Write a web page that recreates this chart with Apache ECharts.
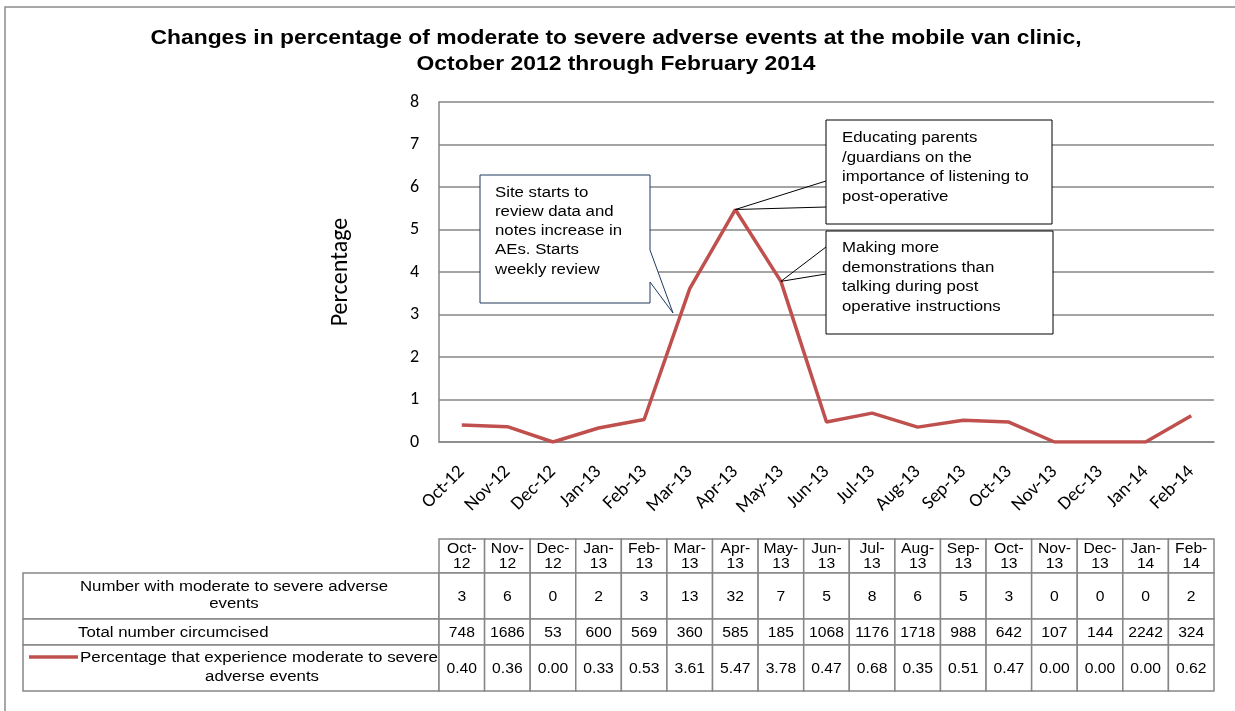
<!DOCTYPE html>
<html>
<head>
<meta charset="utf-8">
<script src="https://cdn.jsdelivr.net/npm/echarts@6/dist/echarts.min.js"></script>
<style>
html,body{margin:0;padding:0;background:#fff;}
#chart{width:1235px;height:711px;}
</style>
</head>
<body>
<div id="chart"></div>
<script>
const categories = ['Oct-12','Nov-12','Dec-12','Jan-13','Feb-13','Mar-13','Apr-13','May-13','Jun-13','Jul-13','Aug-13','Sep-13','Oct-13','Nov-13','Dec-13','Jan-14','Feb-14'];
const adverseCounts = [3,6,0,2,3,13,32,7,5,8,6,5,3,0,0,0,2];
const totalCircumcised = [748,1686,53,600,569,360,585,185,1068,1176,1718,988,642,107,144,2242,324];
const percentages = [0.40,0.36,0.00,0.33,0.53,3.61,5.47,3.78,0.47,0.68,0.35,0.51,0.47,0.00,0.00,0.00,0.62];
const rowLabels = ['Number with moderate to severe adverse\nevents','Total number circumcised','Percentage that experience moderate to severe\nadverse events'];
const titleLines = ['Changes in percentage of moderate to severe adverse events at the mobile van clinic,','October 2012 through February 2014'];
const note1 = ['Site starts to','review data and','notes increase in','AEs. Starts','weekly review'];
const note2 = ['Educating parents','/guardians on the','importance of listening to','post-operative'];
const note3 = ['Making more','demonstrations than','talking during post','operative instructions'];

const LINE_COLOR = '#C0504D';
const GRID_COLOR = '#868686';
const AXIS_FONT = 'Carlito, Lato, "Open Sans", sans-serif';
const TABLE_FONT = '"Liberation Sans", Arial, sans-serif';
const SX = 1.2; // horizontal stretch of the Arial texts

const chart = echarts.init(document.getElementById('chart'));
chart.setOption({
  animation: false,
  backgroundColor: '#fff',
  grid: {left: 439, right: 21, top: 102, bottom: 269, containLabel: false},
  xAxis: {
    type: 'category', data: categories, boundaryGap: true,
    axisLine: {lineStyle: {color: GRID_COLOR, width: 1.5}},
    axisTick: {show: false},
    axisLabel: {rotate: 45, margin: 27, fontFamily: AXIS_FONT, fontSize: 19, color: '#000', interval: 0}
  },
  yAxis: {
    type: 'value', min: 0, max: 8, interval: 1,
    name: 'Percentage', nameLocation: 'middle', nameGap: 86, nameRotate: 90,
    nameTextStyle: {fontFamily: AXIS_FONT, fontSize: 24, color: '#000'},
    axisLine: {show: true, lineStyle: {color: GRID_COLOR, width: 1.5}},
    axisTick: {show: false},
    axisLabel: {margin: 20, fontFamily: AXIS_FONT, fontSize: 18, color: '#000'},
    splitLine: {lineStyle: {color: GRID_COLOR, width: 1.5}}
  },
  series: [{
    type: 'line', data: percentages, symbol: 'none', z: 3,
    lineStyle: {color: LINE_COLOR, width: 3.5}
  }]
});

const measureCtx = document.createElement('canvas').getContext('2d');
function textW(t, font) { measureCtx.font = font; return measureCtx.measureText(t).width; }

function txt(x, y, text, opts) {
  opts = opts || {};
  const size = opts.size || 14;
  return {
    type: 'text', x: x, y: y, scaleX: opts.sx || SX, z: opts.z || 8,
    style: {text: text, fontFamily: TABLE_FONT, fontSize: size, fontWeight: opts.weight || 'normal', fill: '#000',
      align: opts.align || 'left', verticalAlign: 'middle', lineHeight: opts.lh || size + 1}
  };
}

function buildGraphics() {
  const xs = categories.map((c, i) => chart.convertToPixel({xAxisIndex: 0}, i));
  const step = xs[1] - xs[0];
  const g = [];
  g.push({type: 'rect', shape: {x: 5, y: 7, width: 1260, height: 740}, style: {fill: 'none', stroke: '#8c8c8c', lineWidth: 1.5}, z: 1});

  const tFont = 'bold 21px "Liberation Sans"';
  const w1 = textW(titleLines[0], tFont);
  g.push(txt(616, 38, titleLines[0], {size: 21, weight: 'bold', align: 'center', sx: 931 / w1}));
  g.push(txt(616, 64, titleLines[1], {size: 21, weight: 'bold', align: 'center', sx: 931 / w1}));

  const tableLeft = 23;
  const colLeft = xs[0] - step / 2;
  const rowsY = [539, 573, 619, 645, 691];
  const border = {fill: '#fff', stroke: '#868686', lineWidth: 1.5};

  categories.forEach((c, i) => {
    g.push({type: 'rect', shape: {x: xs[i] - step / 2, y: rowsY[0], width: step, height: rowsY[1] - rowsY[0]}, style: border, z: 5});
    g.push(txt(xs[i], (rowsY[0] + rowsY[1]) / 2 + 1, c.replace('-', '-\n'), {align: 'center', lh: 15, sx: 1.12}));
  });
  const rows = [adverseCounts, totalCircumcised, percentages.map(v => v.toFixed(2))];
  rows.forEach((vals, r) => {
    const y0 = rowsY[r + 1], y1 = rowsY[r + 2], ym = (y0 + y1) / 2;
    g.push({type: 'rect', shape: {x: tableLeft, y: y0, width: colLeft - tableLeft, height: y1 - y0}, style: border, z: 5});
    vals.forEach((v, i) => {
      g.push({type: 'rect', shape: {x: xs[i] - step / 2, y: y0, width: step, height: y1 - y0}, style: border, z: 5});
      g.push(txt(xs[i], ym + 1, String(v), {align: 'center', sx: 1.12}));
    });
  });
  g.push(txt(234, (rowsY[1] + rowsY[2]) / 2, rowLabels[0], {align: 'center', lh: 17}));
  g.push(txt(78, (rowsY[2] + rowsY[3]) / 2 + 1, rowLabels[1]));
  const l3 = rowLabels[2].split('\n');
  g.push(txt(80, 658, l3[0], {sx: 358 / textW(l3[0], '14px "Liberation Sans"')}));
  g.push(txt(262, 677, l3[1], {align: 'center'}));
  g.push({type: 'line', shape: {x1: 29, y1: 657, x2: 78, y2: 657}, style: {stroke: LINE_COLOR, lineWidth: 3.5}, z: 6});

  const tip1 = [673, 313];
  g.push({type: 'polygon', shape: {points: [[480, 175], [650, 175], [650, 250], tip1, [650, 282], [650, 303], [480, 303]]},
    style: {fill: '#fff', stroke: '#1F3B5F', lineWidth: 1}, z: 7});
  note1.forEach((t, k) => g.push(txt(495, 193 + k * 19.2, t)));

  const p2 = chart.convertToPixel({xAxisIndex: 0, yAxisIndex: 0}, [6, percentages[6]]);
  g.push({type: 'rect', shape: {x: 826, y: 120, width: 226, height: 104}, style: {fill: '#fff', stroke: '#000', lineWidth: 1}, z: 7});
  g.push({type: 'polyline', shape: {points: [[826, 181], p2, [826, 207]]}, style: {fill: 'none', stroke: '#000', lineWidth: 1}, z: 7});
  note2.forEach((t, k) => g.push(txt(842, 138 + k * 19.7, t)));

  const p3 = chart.convertToPixel({xAxisIndex: 0, yAxisIndex: 0}, [7, percentages[7]]);
  g.push({type: 'rect', shape: {x: 826, y: 231, width: 227, height: 103}, style: {fill: '#fff', stroke: '#000', lineWidth: 1}, z: 7});
  g.push({type: 'polyline', shape: {points: [[826, 247], p3, [826, 274]]}, style: {fill: 'none', stroke: '#000', lineWidth: 1}, z: 7});
  note3.forEach((t, k) => g.push(txt(842, 248 + k * 19.7, t)));

  chart.setOption({graphic: g});
}
buildGraphics();
</script>
</body>
</html>
